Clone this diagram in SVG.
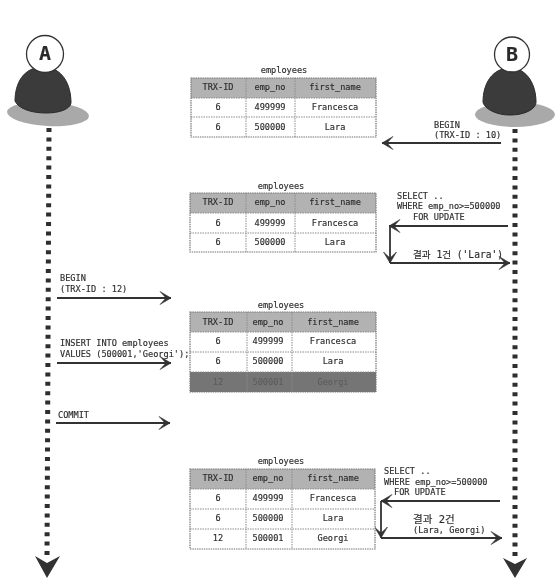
<svg xmlns="http://www.w3.org/2000/svg" width="560" height="588" viewBox="0 0 560 588">
<style>
text{font-family:"DejaVu Sans Mono","Noto Sans CJK KR",monospace;font-size:8.6px;fill:#2c2c2c;stroke:#2c2c2c;stroke-width:.15}
.m{text-anchor:middle}
.cell{fill:#fff;stroke:none}
.head{fill:#b2b2b2;stroke:none}
.dark{fill:#747474;stroke:none}
.grid{stroke:#8c8c8c;stroke-width:1;stroke-dasharray:1.5 1;fill:none}
.outer{stroke:#777;stroke-width:1.2;stroke-dasharray:1.5 .8;fill:none}
.conn{stroke:#333;stroke-width:1.8;fill:none;marker-end:url(#ah)}
.life{stroke:#2e2e2e;stroke-width:5;stroke-dasharray:4 5.4;fill:none}
.shadow{fill:#a9a9a9}
.body{fill:#3a3a3a;stroke:#2a2a2a}
.face{fill:#fff;stroke:#333;stroke-width:1.3}
text.big{font-size:20px;font-weight:bold;text-anchor:middle}
text.ko{font-size:9.6px}
text.ko2{font-size:10.5px}
text.dim{fill:#5a5a5a;stroke:none}
.tip{fill:#333}
</style>
<defs>
<marker id="ah" markerUnits="userSpaceOnUse" markerWidth="16" markerHeight="16" refX="13" refY="8" orient="auto">
<path d="M2 1.500L13 8L2 14.500L3 13.500L8 8L3 2.500Z" fill="#333" stroke="#333" stroke-width=".6"/>
</marker>
<filter id="soft" x="-2%" y="-2%" width="104%" height="104%"><feGaussianBlur stdDeviation="0.35"/></filter>
</defs>
<rect width="560" height="588" fill="#fff"/>
<g filter="url(#soft)">
<g id="actor-a">
<ellipse class="shadow" cx="48" cy="114" rx="41" ry="12" transform="rotate(3 48 114)"/>
<path class="body" d="M15 101C15 84 23 67 43 67C62 67 71 84 71 103C70 109 60 113 46 113C30 113 18 108 15 101Z"/>
<circle class="face" cx="45" cy="54" r="18.500"/>
<text class="big" x="45" y="60">A</text>
</g>
<g id="actor-b">
<ellipse class="shadow" cx="515" cy="114.500" rx="40" ry="12.500"/>
<path class="body" d="M483 102C483 84 492 68 510 68C528 68 536 86 536 102C536 109 525 115 510 115C495 115 484 108 483 102Z"/>
<circle class="face" cx="512" cy="54.500" r="17.500"/>
<text class="big" x="512" y="61">B</text>
</g>
<g id="connectors">
<path class="life" d="M49 128L47 556"/>
<path class="life" d="M515 129V556"/>
<path class="tip" d="M35 556L47 563L60 556L47 578Z"/>
<path class="tip" d="M503 558L515 564L527 558L515 578Z"/>
<path class="conn" d="M501 143H382"/>
<path class="conn" d="M508 226H389"/>
<path class="conn" d="M390 226V263"/>
<path class="conn" d="M390 263H510"/>
<path class="conn" d="M57 298H171"/>
<path class="conn" d="M57 363H171"/>
<path class="conn" d="M56 423H170"/>
<path class="conn" d="M500 501H381"/>
<path class="conn" d="M381 501V538"/>
<path class="conn" d="M381 538H502"/>
</g>
<g id="table-1">
<text class="m" x="284" y="73">employees</text>
<rect class="head" x="191" y="78" width="185" height="20"/>
<rect class="cell" x="191" y="98" width="185" height="39"/>
<path class="grid" d="M191 98H376M191 117H376M246 78V137M295 78V137"/>
<rect class="outer" x="191" y="78" width="185" height="59"/>
<text class="m" x="218" y="90">TRX-ID</text><text class="m" x="270" y="90">emp_no</text><text class="m" x="335" y="90">first_name</text>
<text class="m" x="218" y="110">6</text><text class="m" x="270" y="110">499999</text><text class="m" x="335" y="110">Francesca</text>
<text class="m" x="218" y="130">6</text><text class="m" x="270" y="130">500000</text><text class="m" x="335" y="130">Lara</text>
</g>
<g id="table-2">
<text class="m" x="281" y="189">employees</text>
<rect class="head" x="190" y="193" width="186" height="20"/>
<rect class="cell" x="190" y="213" width="186" height="39"/>
<path class="grid" d="M190 213H376M190 233H376M246 193V252M295 193V252"/>
<rect class="outer" x="190" y="193" width="186" height="59"/>
<text class="m" x="218" y="205">TRX-ID</text><text class="m" x="270" y="205">emp_no</text><text class="m" x="335" y="205">first_name</text>
<text class="m" x="218" y="226">6</text><text class="m" x="270" y="226">499999</text><text class="m" x="335" y="226">Francesca</text>
<text class="m" x="218" y="245">6</text><text class="m" x="270" y="245">500000</text><text class="m" x="335" y="245">Lara</text>
</g>
<g id="table-3">
<text class="m" x="281" y="308">employees</text>
<rect class="head" x="190" y="312" width="186" height="20"/>
<rect class="cell" x="190" y="332" width="186" height="40"/>
<rect class="dark" x="190" y="372" width="186" height="20"/>
<path class="grid" d="M190 332H376M190 352H376M190 372H376M247 312V392M292 312V392"/>
<rect class="outer" x="190" y="312" width="186" height="80"/>
<text class="m" x="218" y="325">TRX-ID</text><text class="m" x="268" y="325">emp_no</text><text class="m" x="333" y="325">first_name</text>
<text class="m" x="218" y="344">6</text><text class="m" x="268" y="344">499999</text><text class="m" x="333" y="344">Francesca</text>
<text class="m" x="218" y="364">6</text><text class="m" x="268" y="364">500000</text><text class="m" x="333" y="364">Lara</text>
<text class="m dim" x="218" y="385">12</text><text class="m dim" x="268" y="385">500001</text><text class="m dim" x="333" y="385">Georgi</text>
</g>
<g id="table-4">
<text class="m" x="281" y="464">employees</text>
<rect class="head" x="190" y="469" width="185" height="20"/>
<rect class="cell" x="190" y="489" width="185" height="60"/>
<path class="grid" d="M190 489H375M190 509H375M190 529H375M246 469V549M292 469V549"/>
<rect class="outer" x="190" y="469" width="185" height="80"/>
<text class="m" x="218" y="481">TRX-ID</text><text class="m" x="268" y="481">emp_no</text><text class="m" x="333" y="481">first_name</text>
<text class="m" x="218" y="501">6</text><text class="m" x="268" y="501">499999</text><text class="m" x="333" y="501">Francesca</text>
<text class="m" x="218" y="521">6</text><text class="m" x="268" y="521">500000</text><text class="m" x="333" y="521">Lara</text>
<text class="m" x="218" y="541">12</text><text class="m" x="268" y="541">500001</text><text class="m" x="333" y="541">Georgi</text>
</g>
<g id="labels">
<text x="434" y="128">BEGIN</text>
<text x="434" y="138">(TRX-ID : 10)</text>
<text x="397" y="199">SELECT ..</text>
<text x="397" y="209">WHERE emp_no&gt;=500000</text>
<text x="413" y="220">FOR UPDATE</text>
<text class="ko" x="413" y="258">결과 1건 ('Lara')</text>
<text x="60" y="281">BEGIN</text>
<text x="60" y="292">(TRX-ID : 12)</text>
<text x="60" y="346">INSERT INTO employees</text>
<text x="60" y="357">VALUES (500001,'Georgi');</text>
<text x="58" y="418">COMMIT</text>
<text x="384" y="474">SELECT ..</text>
<text x="384" y="485">WHERE emp_no&gt;=500000</text>
<text x="394" y="495">FOR UPDATE</text>
<text class="ko2" x="413" y="523">결과 2건</text>
<text x="413" y="533">(Lara, Georgi)</text>
</g>
</g>
</svg>
